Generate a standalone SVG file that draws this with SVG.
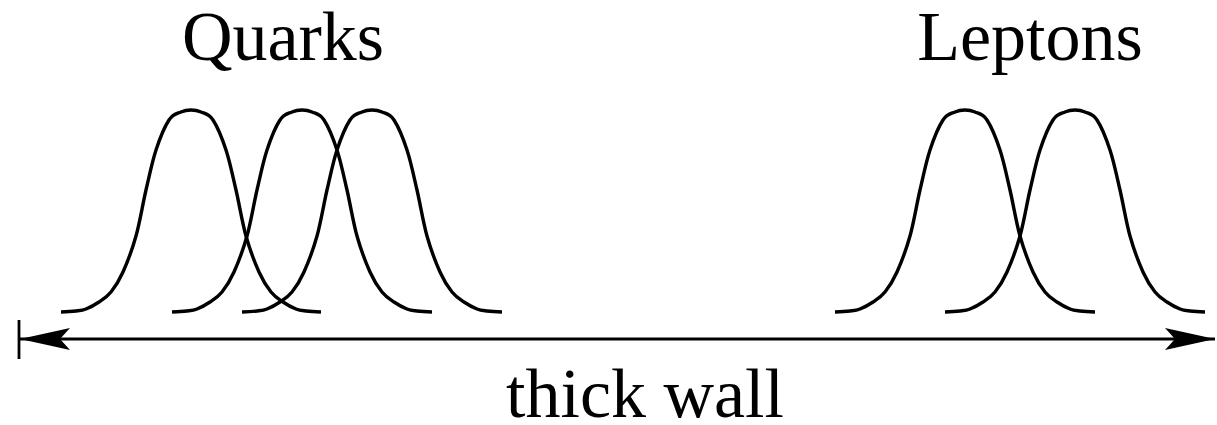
<svg xmlns="http://www.w3.org/2000/svg" xmlns:xlink="http://www.w3.org/1999/xlink" width="1217" height="425" viewBox="0 0 1217 425">
<style>
.lbl{font-family:"Liberation Serif","Times New Roman",serif;font-size:70px;fill:#000;text-anchor:middle}
.curve{fill:none;stroke:#000;stroke-width:3.4;stroke-linecap:butt;stroke-linejoin:round}
.conn{fill:none;stroke:#000;stroke-width:2.8}
</style>
<defs>
<path id="bump" d="M-130,0 C-125,-0.17 -119.17,-0.5 -115,-1 C-110.83,-1.5 -108.83,-1.5 -105,-3 C-101.17,-4.5 -96.17,-7.17 -92,-10 C-87.83,-12.83 -84,-15 -80,-20 C-76,-25 -72.17,-30.67 -68,-40 C-63.83,-49.33 -58.83,-62.33 -55,-76 C-51.17,-89.67 -48.33,-107.67 -45,-122 C-41.67,-136.33 -38.83,-150.33 -35,-162 C-31.17,-173.67 -26.17,-185.67 -22,-192 C-17.83,-198.33 -13.67,-198.33 -10,-200 C-6.33,-201.67 -3.33,-202 0,-202 C3.33,-202 6.33,-201.67 10,-200 C13.67,-198.33 17.83,-198.33 22,-192 C26.17,-185.67 31.17,-173.67 35,-162 C38.83,-150.33 41.67,-136.33 45,-122 C48.33,-107.67 51.17,-89.67 55,-76 C58.83,-62.33 63.83,-49.33 68,-40 C72.17,-30.67 76,-25 80,-20 C84,-15 87.83,-12.83 92,-10 C96.17,-7.17 101.17,-4.5 105,-3 C108.83,-1.5 110.83,-1.5 115,-1 C119.17,-0.5 125,-0.17 130,0"/>
<marker id="head" markerUnits="userSpaceOnUse" viewBox="-50 -12 52 24" refX="0" refY="0" markerWidth="52" markerHeight="24" orient="auto-start-reverse">
<path d="M0,0 L-50,-11 L-40,0 L-50,11 Z" fill="#000"/>
</marker>
</defs>
<g id="quarks">
<text class="lbl" x="283" y="60">Quarks</text>
<use class="curve" xlink:href="#bump" transform="translate(191,312)"/>
<use class="curve" xlink:href="#bump" transform="translate(302,312)"/>
<use class="curve" xlink:href="#bump" transform="translate(372,312)"/>
</g>
<g id="leptons">
<text class="lbl" x="1030" y="60">Leptons</text>
<use class="curve" xlink:href="#bump" transform="translate(965,312)"/>
<use class="curve" xlink:href="#bump" transform="translate(1075,312)"/>
</g>
<g id="connectors">
<line class="conn" x1="19" y1="320" x2="19" y2="359"/>
<line class="conn" x1="20" y1="339" x2="1215" y2="339" marker-start="url(#head)" marker-end="url(#head)"/>
</g>
<g id="wall-label">
<text class="lbl" x="645" y="417">thick wall</text>
</g>
</svg>
